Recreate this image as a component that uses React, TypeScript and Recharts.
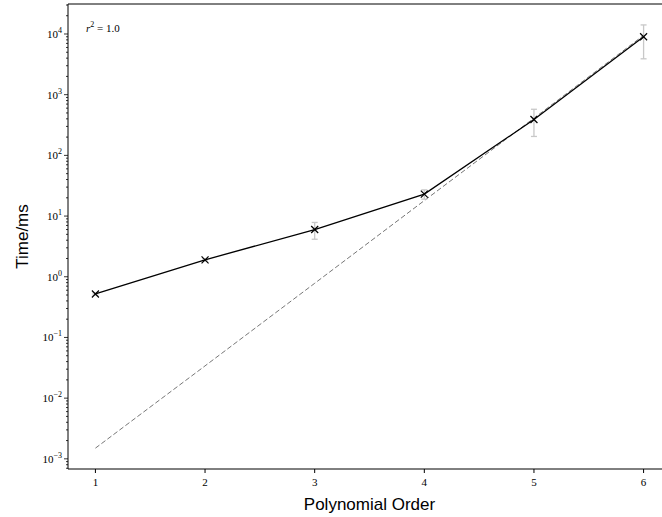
import {
  ComposedChart,
  Line,
  Scatter,
  ErrorBar,
  XAxis,
  YAxis,
  ReferenceLine,
  Customized,
} from "recharts";

const orders = [1, 2, 3, 4, 5, 6];
const meanTimes = [0.52, 1.9, 6.0, 23, 390, 9000];
const stdTimes = [0.02, 0.08, 1.85, 4, 185, 5100];
const fitTimes = [0.0015, 0.034, 0.78, 18, 410, 9500];

const xTicks = [1, 2, 3, 4, 5, 6];
const yMajorTicks = [1e-3, 1e-2, 1e-1, 1, 10, 100, 1e3, 1e4];
const yMinorMults = [2, 3, 4, 5, 6, 7, 8, 9];

const xDomain = [0.75, 6.25];
const yDomain = [6.8e-4, 31200];

const serif = "'Liberation Serif', 'DejaVu Serif', serif";
const sans = "'Liberation Sans', Arial, sans-serif";

const data = orders.map((o, i) => ({
  order: o,
  mean: meanTimes[i],
  err: stdTimes[i],
  fit: fitTimes[i],
}));

const yTicks = [
  ...yMajorTicks,
  ...[1e-4, ...yMajorTicks].flatMap((m) => yMinorMults.map((k) => m * k)),
].filter((v) => v >= yDomain[0] && v <= yDomain[1]);

function YTick(props: any) {
  const { x, y, payload } = props;
  const v = payload.value;
  const major = yMajorTicks.some((m) => Math.abs(m - v) / m < 1e-6);
  const exp = Math.round(Math.log10(v));
  return (
    <g>
      <line x1={x} x2={x - (major ? 4 : 2)} y1={y} y2={y} stroke="#000" strokeWidth={0.8} />
      {major && (
        <text x={x - 6} y={y + 4} textAnchor="end" fontFamily={serif} fontSize={11} fill="#000">
          10
          <tspan dy={-5} fontSize={8}>
            {exp < 0 ? "\u2212" + -exp : String(exp)}
          </tspan>
        </text>
      )}
    </g>
  );
}

function Cross(props: any) {
  const { cx, cy } = props;
  if (cx == null || cy == null) return <g />;
  const s = 3.5;
  return (
    <g>
      <line x1={cx - s} y1={cy - s} x2={cx + s} y2={cy + s} stroke="#000" strokeWidth={1.2} />
      <line x1={cx - s} y1={cy + s} x2={cx + s} y2={cy - s} stroke="#000" strokeWidth={1.2} />
    </g>
  );
}

function YLabel(props: any) {
  const vb = props.viewBox;
  const cx = vb.x + 22;
  const cy = vb.y + vb.height / 2;
  return (
    <text
      x={cx}
      y={cy}
      transform={`rotate(-90 ${cx} ${cy})`}
      textAnchor="middle"
      dominantBaseline="central"
      fontFamily={sans}
      fontSize={17}
      fill="#000"
    >
      Time/ms
    </text>
  );
}

function RSquared() {
  return (
    <text x={86} y={32} fontFamily={serif} fontSize={11} fill="#000">
      <tspan fontStyle="italic">r</tspan>
      <tspan dy={-5} fontSize={8}>2</tspan>
      <tspan dy={5}> = 1.0</tspan>
    </text>
  );
}

export default function App() {
  return (
    <div
      style={{
        position: "absolute",
        left: 0,
        top: 0,
        width: 662,
        height: 517,
        overflow: "hidden",
        background: "#fff",
      }}
    >
      <ComposedChart
        width={662}
        height={517}
        data={data}
        margin={{ top: 4, right: -9, bottom: 0, left: 0 }}
      >
        <XAxis
          dataKey="order"
          type="number"
          domain={xDomain}
          ticks={xTicks}
          interval={0}
          allowDataOverflow
          height={48}
          stroke="#000"
          tickSize={4}
          tickMargin={5}
          tick={{ fill: "#000", fontSize: 11, fontFamily: serif }}
          label={{
            value: "Polynomial Order",
            position: "insideBottom",
            offset: 7,
            fill: "#000",
            fontSize: 17,
            fontFamily: sans,
          }}
        />
        <YAxis
          type="number"
          scale="log"
          domain={yDomain}
          allowDataOverflow
          ticks={yTicks}
          interval={0}
          width={68}
          stroke="#000"
          tickLine={false}
          tickSize={0}
          tickMargin={0}
          tick={<YTick />}
          label={<YLabel />}
        />
        <ReferenceLine y={yDomain[1]} stroke="#000" strokeWidth={1} ifOverflow="extendDomain" />
        <Line
          dataKey="fit"
          stroke="#777"
          strokeWidth={1}
          strokeDasharray="5 2.5"
          dot={false}
          activeDot={false}
          isAnimationActive={false}
        />
        <Scatter dataKey="mean" shape={() => <g />} isAnimationActive={false}>
          <ErrorBar dataKey="err" direction="y" width={3} stroke="#c8c8c8" strokeWidth={1.3} />
        </Scatter>
        <Line
          dataKey="mean"
          stroke="#000"
          strokeWidth={1.3}
          dot={<Cross />}
          activeDot={false}
          isAnimationActive={false}
        />
        <Customized component={<RSquared />} />
      </ComposedChart>
    </div>
  );
}
